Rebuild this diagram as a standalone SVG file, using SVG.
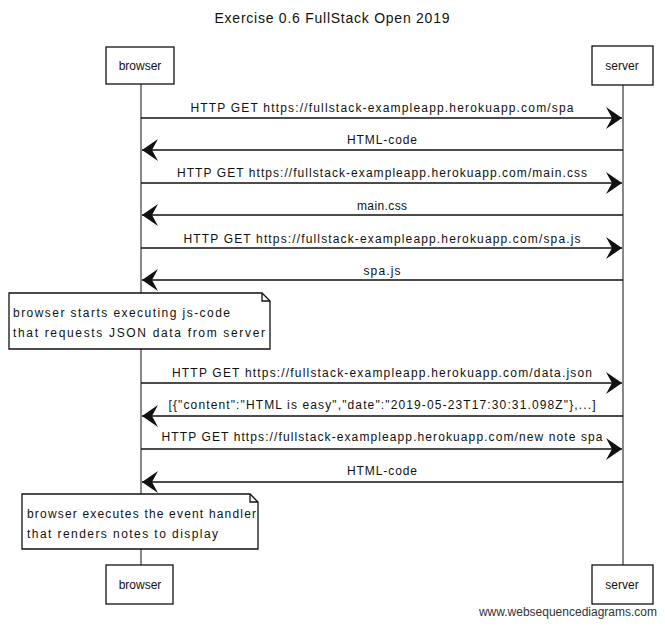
<svg xmlns="http://www.w3.org/2000/svg" width="665" height="626" viewBox="0 0 665 626">
<style>
text{font-family:"Liberation Sans",Arial,sans-serif;fill:#111}
.box{fill:#fff;stroke:#111;stroke-width:1.3}
.life{stroke:#111;stroke-width:1}
.msg{stroke:#111;stroke-width:1.3;fill:none}
.r{marker-end:url(#ah)}
.lbl{font-size:12px;text-anchor:middle}
.part{font-size:12px;text-anchor:middle}
.note{font-size:12px}
</style>
<defs>
<marker id="ah" viewBox="-17 -12 18 24" refX="0" refY="0" markerWidth="18" markerHeight="24" markerUnits="userSpaceOnUse" orient="auto">
<path d="M0,0 L-16,-11 L-10,0 L-16,11 Z" fill="#111"/>
</marker>
</defs>
<rect width="665" height="626" fill="#fff"/>
<text x="332" y="23" font-size="14" text-anchor="middle" textLength="235">Exercise 0.6 FullStack Open 2019</text>
<g id="lifelines">
<line class="life" x1="141" y1="84" x2="141" y2="565"/>
<line class="life" x1="623" y1="85" x2="623" y2="565"/>
</g>
<g id="browser-top"><rect class="box" x="106" y="47" width="68" height="37"/><text class="part" x="140" y="70">browser</text></g>
<g id="server-top"><rect class="box" x="592" y="46" width="61" height="39"/><text class="part" x="622" y="70">server</text></g>
<g id="browser-bottom"><rect class="box" x="106" y="565" width="67" height="39"/><text class="part" x="140" y="589">browser</text></g>
<g id="server-bottom"><rect class="box" x="592" y="565" width="61" height="39"/><text class="part" x="622" y="589">server</text></g>
<g id="connectors">
<line class="msg r" x1="141" y1="118" x2="622" y2="118"/>
<text class="lbl" x="382" y="112" textLength="383">HTTP GET https://fullstack-exampleapp.herokuapp.com/spa</text>
<line class="msg r" x1="623" y1="150" x2="142" y2="150"/>
<text class="lbl" x="382" y="144" textLength="70">HTML-code</text>
<line class="msg r" x1="141" y1="183" x2="622" y2="183"/>
<text class="lbl" x="382" y="177" textLength="410">HTTP GET https://fullstack-exampleapp.herokuapp.com/main.css</text>
<line class="msg r" x1="623" y1="215" x2="142" y2="215"/>
<text class="lbl" x="382" y="210" textLength="50">main.css</text>
<line class="msg r" x1="141" y1="248" x2="622" y2="248"/>
<text class="lbl" x="382" y="243" textLength="397">HTTP GET https://fullstack-exampleapp.herokuapp.com/spa.js</text>
<line class="msg r" x1="623" y1="280" x2="142" y2="280"/>
<text class="lbl" x="382" y="275" textLength="37">spa.js</text>
<line class="msg r" x1="141" y1="383" x2="622" y2="383"/>
<text class="lbl" x="382" y="377" textLength="420">HTTP GET https://fullstack-exampleapp.herokuapp.com/data.json</text>
<line class="msg r" x1="623" y1="416" x2="142" y2="416"/>
<text class="lbl" x="382" y="409" textLength="427">[{"content":"HTML is easy","date":"2019-05-23T17:30:31.098Z"},...]</text>
<line class="msg r" x1="141" y1="449" x2="622" y2="449"/>
<text class="lbl" x="382" y="441" textLength="441">HTTP GET https://fullstack-exampleapp.herokuapp.com/new note spa</text>
<line class="msg r" x1="623" y1="482" x2="142" y2="482"/>
<text class="lbl" x="382" y="475" textLength="70">HTML-code</text>
</g>
<g id="note-1">
<path class="box" d="M9,293 L262,293 L270,301 L270,349 L9,349 Z"/>
<path class="msg" d="M262,293 L262,301 L270,301"/>
<text class="note" x="13" y="317" textLength="217">browser starts executing js-code</text>
<text class="note" x="13" y="337" textLength="252">that requests JSON data from server</text>
</g>
<g id="note-2">
<path class="box" d="M22,494 L250,494 L258,502 L258,549 L22,549 Z"/>
<path class="msg" d="M250,494 L250,502 L258,502"/>
<text class="note" x="27" y="518" textLength="229">browser executes the event handler</text>
<text class="note" x="27" y="538" textLength="191">that renders notes to display</text>
</g>
<text x="657" y="616" font-size="12" text-anchor="end" fill="#333" style="fill:#333">www.websequencediagrams.com</text>
</svg>
